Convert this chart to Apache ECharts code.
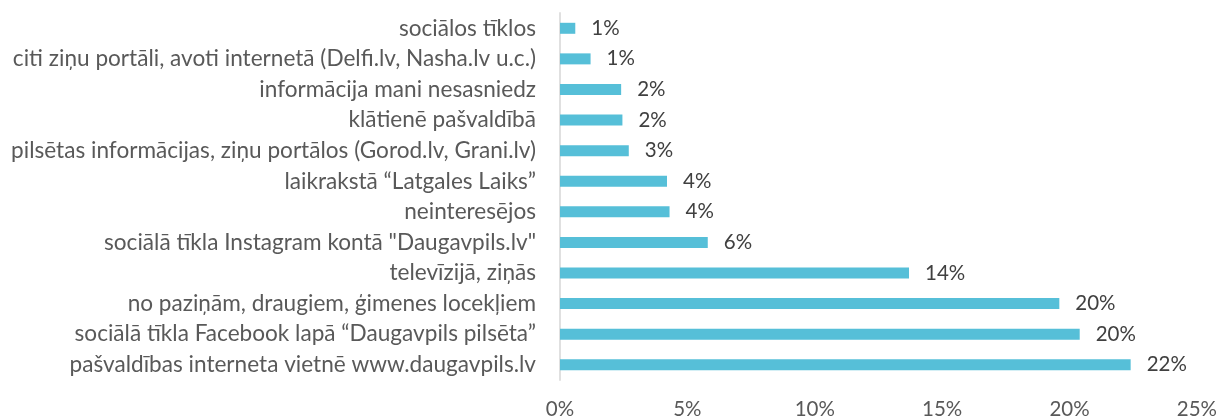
<!DOCTYPE html>
<html>
<head>
<meta charset="utf-8">
<script src="https://cdn.jsdelivr.net/npm/echarts@6/dist/echarts.min.js"></script>
<style>
    html, body { margin: 0; padding: 0; background: #ffffff; }
    #chart { width: 1220px; height: 420px; }
</style>
</head>
<body>
<div id="chart"></div>
<script>
    // kategorijas no augšas uz leju
    var categories = [
        'sociālos tīklos',
        'citi ziņu portāli, avoti internetā (Delfi.lv, Nasha.lv u.c.)',
        'informācija mani nesasniedz',
        'klātienē pašvaldībā',
        'pilsētas informācijas, ziņu portālos (Gorod.lv, Grani.lv)',
        'laikrakstā “Latgales Laiks”',
        'neinteresējos',
        'sociālā tīkla Instagram kontā "Daugavpils.lv"',
        'televīzijā, ziņās',
        'no paziņām, draugiem, ģimenes locekļiem',
        'sociālā tīkla Facebook lapā “Daugavpils pilsēta”',
        'pašvaldības interneta vietnē www.daugavpils.lv'
    ];
    // procenti
    var values = [0.6, 1.2, 2.4, 2.45, 2.7, 4.2, 4.3, 5.8, 13.7, 19.6, 20.4, 22.4];
    var xTicks = { min: 0, max: 25, interval: 5 };

    var font = 'Lato';
    var myChart = echarts.init(document.getElementById('chart'));
    myChart.setOption({
        backgroundColor: '#ffffff',
        animation: false,
        grid: { left: 560, right: 23, top: 13, bottom: 39 },
        xAxis: {
            type: 'value',
            min: xTicks.min,
            max: xTicks.max,
            interval: xTicks.interval,
            axisLine: { show: false },
            axisTick: { show: false },
            splitLine: { show: false },
            axisLabel: {
                formatter: '{value}%',
                color: '#595959',
                fontFamily: font,
                fontSize: 20.5,
                margin: 19
            }
        },
        yAxis: {
            type: 'category',
            inverse: true,
            data: categories,
            axisLine: { show: true, lineStyle: { color: '#e0e0e0', width: 2 } },
            axisTick: { show: false },
            axisLabel: {
                color: '#595959',
                fontFamily: font,
                fontSize: 22.6,
                margin: 24
            }
        },
        series: [{
            type: 'bar',
            data: values,
            barWidth: 11,
            itemStyle: { color: '#56bfd8' },
            label: {
                show: true,
                position: 'right',
                distance: 16,
                color: '#404040',
                fontFamily: font,
                fontSize: 20.5,
                formatter: function (p) { return Math.round(p.value) + '%'; }
            }
        }]
    });
</script>
</body>
</html>
